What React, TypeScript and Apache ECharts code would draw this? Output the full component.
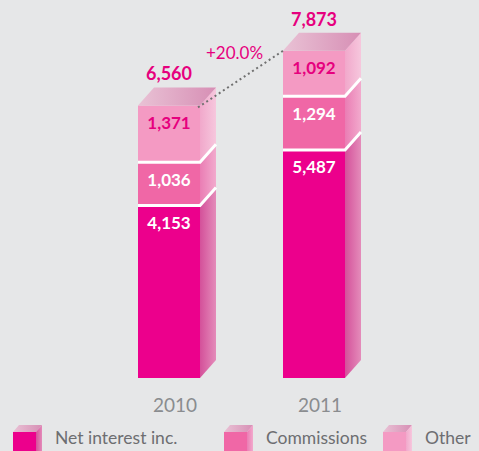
import React, { useEffect, useRef } from "react";
import * as echarts from "echarts";

const categories = ["2010", "2011"];
const netInterest = [4153, 5487];
const commissions = [1036, 1294];
const other = [1371, 1092];
const seriesNames = ["Net interest inc.", "Commissions", "Other"];

const layers = [netInterest, commissions, other];
const frontColors = ["#ec008c", "#f067a6", "#f49ac3"];
const sideColors = [
  ["#d4509a", "#e48cba"],
  ["#ea7db4", "#f2aacd"],
  ["#f1a8cb", "#f6c7dd"],
];
const labelColors = ["#ffffff", "#ffffff", "#e6007e"];
const topColors = ["#e9c2d5", "#d78fb5"];
const magenta = "#e6007e";
const FONT = "Lato, 'Open Sans', sans-serif";

const W = 62;
const DX = 16;
const DY = 18;

const fmt = (v: number) => v.toLocaleString("en-US");
const totals = categories.map((_, i) => layers.reduce((s, l) => s + l[i], 0));

const grad = (c: string[]) => ({
  type: "linear",
  x: 0,
  y: 0,
  x2: 1,
  y2: 0,
  colorStops: [
    { offset: 0, color: c[0] },
    { offset: 1, color: c[1] },
  ],
});

function makeRender(layer: number) {
  return (params: any, api: any) => {
    const ci = api.value(0);
    const v = api.value(1);
    const di = params.dataIndex;
    let base = 0;
    for (let k = 0; k < layer; k++) base += layers[k][di];
    const pTop = api.coord([ci, base + v]);
    const pBot = api.coord([ci, base]);
    const cx = pTop[0];
    const x0 = cx - W / 2;
    const x1 = cx + W / 2;
    const yTop = pTop[1];
    const yBot = pBot[1];
    const children: any[] = [
      {
        type: "rect",
        shape: { x: x0, y: yTop, width: W, height: yBot - yTop },
        style: { fill: frontColors[layer] },
      },
      {
        type: "polygon",
        shape: {
          points: [
            [x1, yTop],
            [x1 + DX, yTop - DY],
            [x1 + DX, yBot - DY],
            [x1, yBot],
          ],
        },
        style: { fill: grad(sideColors[layer]) },
      },
    ];
    if (layer > 0) {
      children.push({
        type: "polyline",
        shape: {
          points: [
            [x0, yBot],
            [x1, yBot],
            [x1 + DX, yBot - DY],
          ],
        },
        style: { stroke: "#ffffff", lineWidth: 3, fill: null },
      });
    }
    children.push({
      type: "text",
      x: cx,
      y: yTop + 17,
      style: {
        text: fmt(v),
        fill: labelColors[layer],
        font: `bold 17px ${FONT}`,
        align: "center",
        verticalAlign: "middle",
      },
    });
    if (layer === layers.length - 1) {
      children.push({
        type: "polygon",
        shape: {
          points: [
            [x0, yTop],
            [x0 + DX, yTop - DY],
            [x1 + DX, yTop - DY],
            [x1, yTop],
          ],
        },
        style: { fill: grad(topColors) },
      });
      children.push({
        type: "text",
        x: cx,
        y: yTop - DY - 14,
        style: {
          text: fmt(totals[di]),
          fill: magenta,
          font: `bold 18px ${FONT}`,
          align: "center",
          verticalAlign: "middle",
        },
      });
      if (di > 0) {
        const prev = api.coord([di - 1, totals[di - 1]]);
        const sx = prev[0] + W / 2 - 2;
        const sy = prev[1] + 2;
        children.push({
          type: "line",
          shape: { x1: sx, y1: sy, x2: x0, y2: yTop },
          style: { stroke: "#707070", lineWidth: 2, lineDash: [2, 3] },
        });
        const growth = (totals[di] / totals[di - 1] - 1) * 100;
        children.push({
          type: "text",
          x: (sx + x0) / 2 - 6,
          y: (sy + yTop) / 2 - 27,
          style: {
            text: "+" + growth.toFixed(1) + "%",
            fill: magenta,
            font: `17px ${FONT}`,
            align: "center",
            verticalAlign: "middle",
          },
        });
      }
    }
    return { type: "group", children };
  };
}

function legendGraphic() {
  const iconX = [13, 224, 383];
  const textX = [55, 266, 425];
  const out: any[] = [];
  seriesNames.forEach((name, i) => {
    const x0 = iconX[i];
    const w = 23;
    const y = 432;
    out.push({
      type: "polygon",
      shape: { points: [[x0, y], [x0 + 6, y - 7], [x0 + w + 6, y - 7], [x0 + w, y]] },
      style: { fill: grad(topColors) },
    });
    out.push({
      type: "polygon",
      shape: { points: [[x0 + w, y], [x0 + w + 6, y - 7], [x0 + w + 6, 460], [x0 + w, 460]] },
      style: { fill: grad(sideColors[i]) },
    });
    out.push({
      type: "rect",
      shape: { x: x0, y, width: w, height: 25 },
      style: { fill: frontColors[i] },
    });
    out.push({
      type: "text",
      x: textX[i],
      y: 437,
      style: {
        text: name,
        fill: "#6d6e71",
        font: `17.5px ${FONT}`,
        verticalAlign: "middle",
      },
    });
  });
  return out;
}

export default function App() {
  const ref = useRef<HTMLDivElement>(null);
  useEffect(() => {
    document.body.style.margin = "0";
    const chart = echarts.init(ref.current!, null, { renderer: "svg" });
    chart.setOption({
      animation: false,
      backgroundColor: "#e6e7e8",
      grid: { left: 96.5, right: 92.5, top: 4, bottom: 73 },
      xAxis: {
        type: "category",
        data: categories,
        axisLine: { show: false },
        axisTick: { show: false },
        axisLabel: {
          margin: 17,
          color: "#8a8c8f",
          fontSize: 19,
          fontFamily: FONT,
          padding: [0, 0, 0, 12],
        },
      },
      yAxis: { type: "value", min: 0, max: 9000, show: false },
      series: layers.map((l, li) => ({
        type: "custom",
        name: seriesNames[li],
        data: l.map((v, i) => [i, v]),
        encode: { x: 0, y: 1 },
        renderItem: makeRender(li),
      })),
      graphic: legendGraphic(),
    });
    return () => chart.dispose();
  }, []);
  return (
    <div
      ref={ref}
      style={{ position: "fixed", left: 0, top: 0, width: 479, height: 451 }}
    />
  );
}
